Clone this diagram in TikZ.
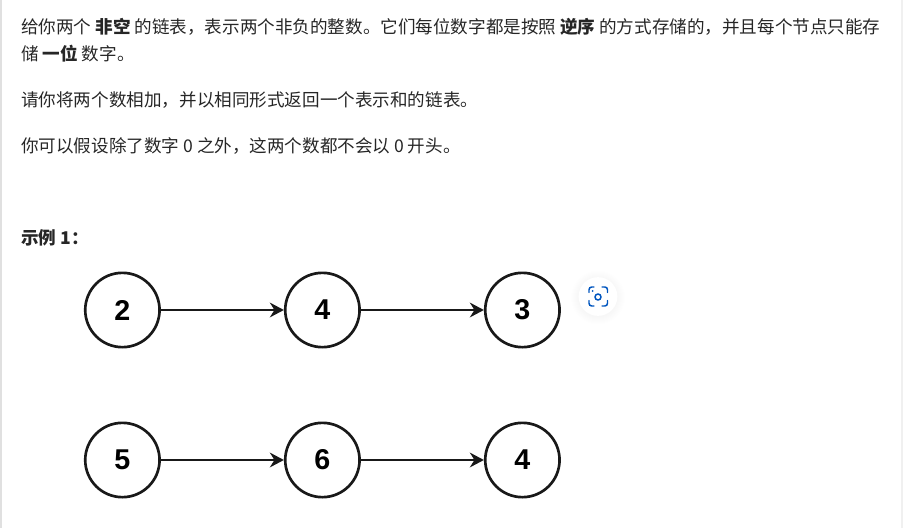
\documentclass[tikz,border=0pt]{standalone}
\usepackage{fontspec}
\setmainfont{Noto Sans CJK SC}
\newfontfamily\digitfont{Liberation Sans}
\usetikzlibrary{arrows.meta}
\tikzset{
    para/.style={anchor=base west, inner sep=0pt, text=black!85, font=\fontsize{13.18}{15}\selectfont},
    listnode/.style={circle, draw=black!90, line width=2pt, minimum size=55.75pt, inner sep=0pt, font=\digitfont\bfseries\fontsize{21.5}{22}\selectfont},
    nextlink/.style={draw=black!90, line width=2.1pt, -{Stealth[length=10.5pt,width=11pt]}},
    lensmark/.style={draw=blue!55!cyan!75!black, line width=1.1pt, line cap=round, rounded corners=2pt}
}
\begin{document}
\begin{tikzpicture}[x=0.75pt, y=-0.75pt]
    \useasboundingbox (0,0) rectangle (903,528);
    \fill[black!12] (0,0) rectangle (2,528);
    \fill[black!6] (901,0) rectangle (903,528);

    \node[para] (line1) at (21,34) {给你两个 \textbf{非空} 的链表，表示两个非负的整数。它们每位数字都是按照 \textbf{逆序} 的方式存储的，并且每个节点只能存};
    \node[para] (line2) at (21,61) {储 \textbf{一位} 数字。};
    \node[para] (line3) at (21,107) {请你将两个数相加，并以相同形式返回一个表示和的链表。};
    \node[para] (line4) at (21,152) {你可以假设除了数字 0 之外，这两个数都不会以 0 开头。};
    \node[para] (example) at (21,244) {\textbf{示例 1：}};

    \node[listnode] (a2) at (122.4,310) {2};
    \node[listnode] (a4) at (322.4,310) {4};
    \node[listnode] (a3) at (522.4,310) {3};
    \node[listnode] (b5) at (122.4,460) {5};
    \node[listnode] (b6) at (322.4,460) {6};
    \node[listnode] (b4) at (522.4,460) {4};

    \draw[nextlink] (a2) -- (a4);
    \draw[nextlink] (a4) -- (a3);
    \draw[nextlink] (b5) -- (b6);
    \draw[nextlink] (b6) -- (b4);

    % lens button
    \foreach \halo in {27,26,25,24,23,22,21,20}
        \fill[black, opacity=0.005] (598,297.5) circle[radius=\halo];
    \node[circle, fill=white, minimum size=29pt, inner sep=0pt] (lens) at (598,296.5) {};
    \draw[lensmark] (589,292.5) -- (589,287) -- (594,287);
    \draw[lensmark] (602,287) -- (607.5,287) -- (607.5,292.5);
    \draw[lensmark] (607.5,300.5) -- (607.5,306) -- (602,306);
    \draw[lensmark] (594,306) -- (589,306) -- (589,300.5);
    \draw[lensmark] (598,297) circle[radius=3];
    \fill[blue!55!cyan!75!black] (592.5,291) circle[radius=1];
\end{tikzpicture}
\end{document}
